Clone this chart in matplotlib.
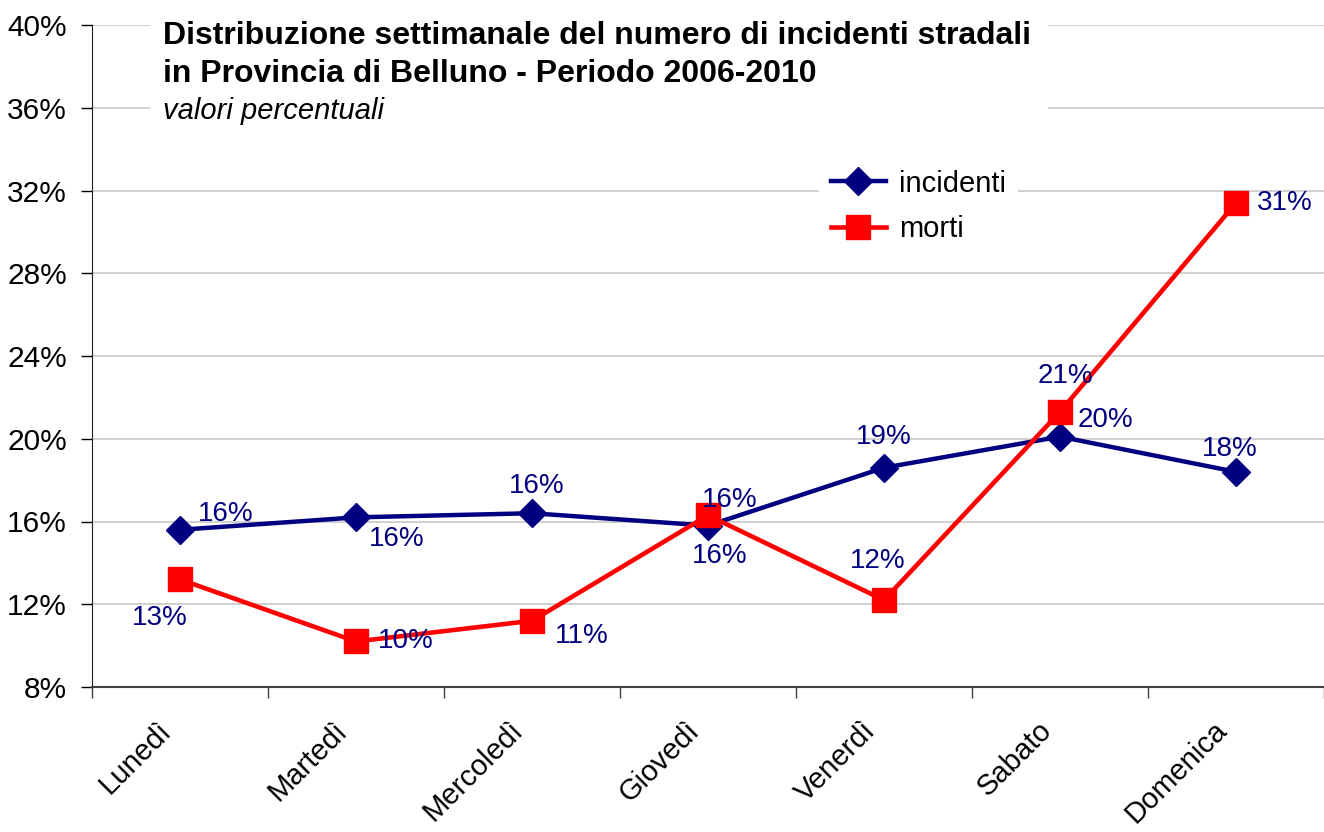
import matplotlib
matplotlib.use("Agg")
import matplotlib.pyplot as plt
from matplotlib.patches import Rectangle
from matplotlib.ticker import FuncFormatter

plt.rcParams["font.family"] = ["Liberation Sans", "DejaVu Sans"]

giorni = ["Lunedì", "Martedì", "Mercoledì", "Giovedì", "Venerdì", "Sabato", "Domenica"]
incidenti = [15.6, 16.2, 16.4, 15.8, 18.6, 20.1, 18.4]
morti = [13.2, 10.2, 11.2, 16.3, 12.2, 21.3, 31.4]

# label offsets in pixels (dx right, dy up) -- hand-placed like the original
off_inc = [(46, 16), (41, -22), (5, 27), (12, -30), (0, 31), (45, 17), (-6, 23)]
off_mor = [(-20, -39), (50, 0), (50, -15), (22, 15), (-6, 39), (5, 36), (49, 0)]

W, H = 1324, 832
fig = plt.figure(figsize=(W / 100, H / 100), dpi=100)
ax = fig.add_axes([92 / W, 145 / H, 1 - 92 / W, 662 / H])

x = list(range(len(giorni)))
ax.plot(x, incidenti, color="#000080", lw=3.2, marker="D", ms=14, label="incidenti", zorder=3)
ax.plot(x, morti, color="#ff0000", lw=3.3, marker="s", ms=17, label="morti", zorder=3)

px = 0.72  # pixel -> point at 100 dpi
for vals, offs in ((incidenti, off_inc), (morti, off_mor)):
    for i, (v, (dx, dy)) in enumerate(zip(vals, offs)):
        ax.annotate(f"{v:.0f}%", (i, v), xytext=(dx * px, dy * px), textcoords="offset points",
                    ha="center", va="center", fontsize=20, color="#000080", zorder=4)

ax.set_xlim(-0.5, 6.46)
ax.set_ylim(8, 40)
ax.set_yticks(range(8, 41, 4))
ax.yaxis.set_major_formatter(FuncFormatter(lambda v, p: f"{v:.0f}%"))
# category labels sit a little left of the category centre, as in the original
ax.set_xticks([i - 0.13 for i in x])
ax.set_xticklabels(giorni, rotation=45, ha="right", rotation_mode="anchor", fontsize=21)
ax.set_xticks([i + 0.5 for i in range(-1, 7)], minor=True)
ax.tick_params(axis="x", which="major", length=0, pad=21)
ax.tick_params(axis="x", which="minor", length=8, width=1, color="#404040")
ax.tick_params(axis="y", length=8, width=1, labelsize=21.5, pad=10)
ax.grid(axis="y", color="#c8c8c8", lw=1.2)
ax.set_axisbelow(True)
for s in ("top", "right"):
    ax.spines[s].set_visible(False)
ax.spines["left"].set_color("#202020")
ax.spines["bottom"].set_color("#404040")
ax.spines["bottom"].set_linewidth(1.5)

# white box behind the title
fig.patches.append(Rectangle((150 / W, 1 - 120 / H), 898 / W, 105 / H, transform=fig.transFigure,
                             facecolor="white", edgecolor="none", zorder=1))
fig.text(163 / W, 1 - 36 / H, "Distribuzione settimanale del numero di incidenti stradali",
         fontsize=23, fontweight="bold", va="center", zorder=5)
fig.text(163 / W, 1 - 74 / H, "in Provincia di Belluno - Periodo 2006-2010",
         fontsize=23, fontweight="bold", va="center", zorder=5)
fig.text(163 / W, 1 - 111 / H, "valori percentuali", fontsize=21, style="italic", va="center", zorder=5)

leg = ax.legend(loc="upper left", bbox_to_anchor=(819 / W, 1 - 158 / H), bbox_transform=fig.transFigure,
                borderaxespad=0, fontsize=21, frameon=True, fancybox=False, handlelength=1.9,
                handletextpad=0.45, labelspacing=0.6)
leg.get_frame().set_edgecolor("none")
leg.get_frame().set_facecolor("white")
leg.get_frame().set_alpha(1)

fig.savefig("out.png", dpi=100)
